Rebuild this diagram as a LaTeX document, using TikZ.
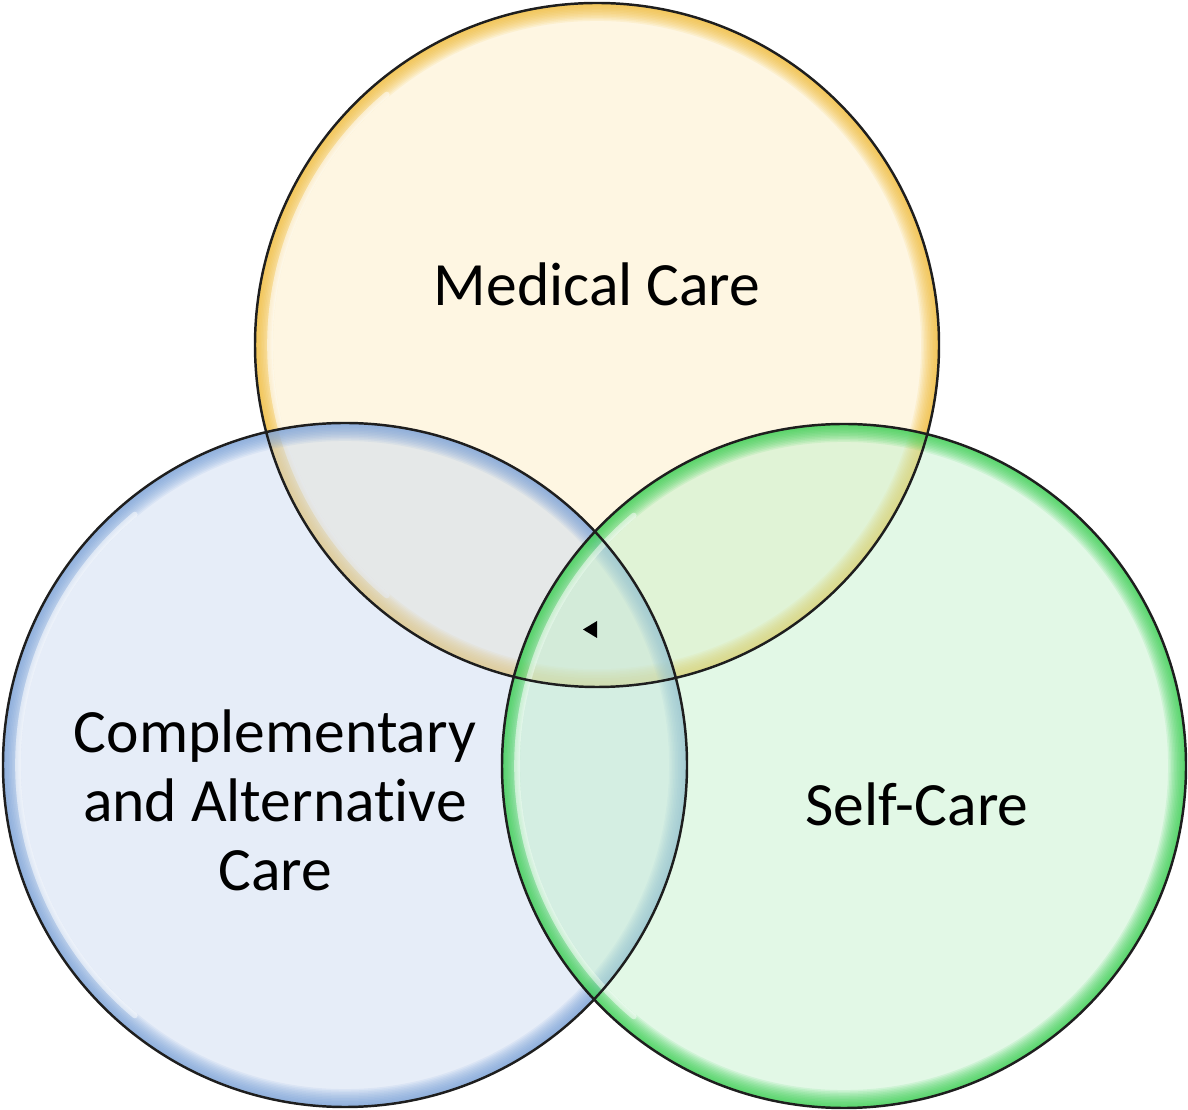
\documentclass[tikz,border=0pt]{standalone}
\usepackage{fontspec}
\setmainfont{Carlito}[Ligatures=NoCommon]
\definecolor{medfill}{RGB}{252,235,190}
\definecolor{medrim}{RGB}{240,185,50}
\definecolor{camfill}{RGB}{200,215,240}
\definecolor{camrim}{RGB}{120,160,215}
\definecolor{selffill}{RGB}{190,240,200}
\definecolor{selfrim}{RGB}{50,205,75}
\definecolor{edge}{RGB}{30,30,30}
\begin{document}
\begin{tikzpicture}[x=0.01cm,y=0.01cm,
  setname/.style={font=\fontsize{17.5}{19.6}\selectfont,align=center,text=black,inner sep=0pt}]
\useasboundingbox (0,0) rectangle (1188,1109);
% pale fills with a glowing rim on the inside of each circle
\foreach \cx/\cy/\fc/\rc in {597/764/medfill/medrim,345/344/camfill/camrim,844/343/selffill/selfrim}{
  \fill[\fc,fill opacity=0.45] (\cx,\cy) circle (342);
  \begin{scope}
    \clip (\cx,\cy) circle (342);
    \foreach \w in {1,...,12}
      \draw[\rc,line width=0.85*\w pt,opacity=0.11] (\cx,\cy) circle (342);
    \draw[white,line width=1.6pt,line cap=round,opacity=0.5] ([shift={(130:327)}]\cx,\cy) arc (130:230:327);
  \end{scope}
}
% thin dark outlines on top
\foreach \cx/\cy in {597/764,345/344,844/343}
  \draw[edge,line width=0.7pt] (\cx,\cy) circle (342);
\node[setname] (med) at (597,825) {Medical Care};
\node[setname] (cam) at (275,309) {Complementary\\and Alternative\\Care};
\node[setname] (self) at (917,305) {Self-Care};
% small marker near the centre
\fill[black] (583,479.5) -- (597,488) -- (597,471) -- cycle;
\end{tikzpicture}
\end{document}
